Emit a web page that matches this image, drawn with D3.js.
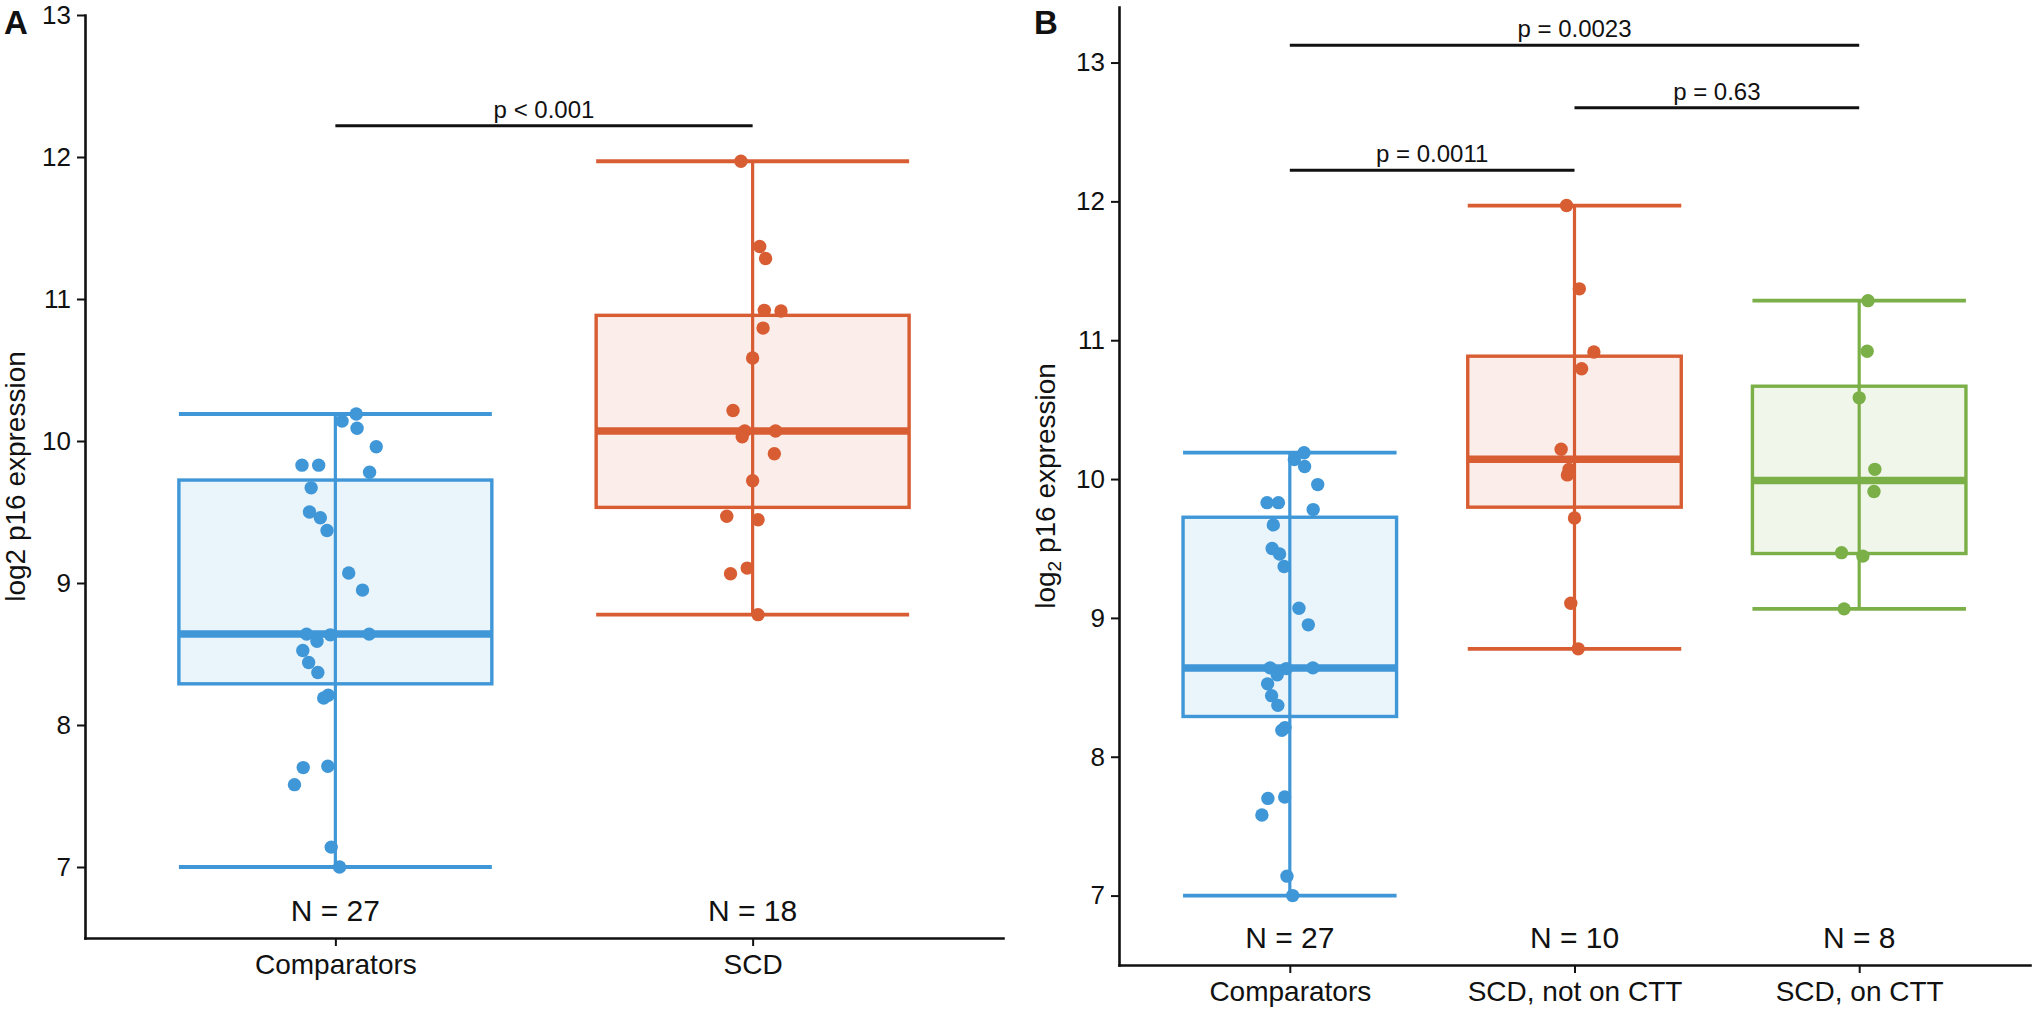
<!DOCTYPE html>
<html>
<head>
<meta charset="utf-8">
<script src="https://cdn.jsdelivr.net/npm/d3@7"></script>
<style>
  html, body { margin: 0; padding: 0; background: #fff; }
  svg { display: block; font-family: "Liberation Sans", Arial, Helvetica, sans-serif; }
</style>
</head>
<body>
<svg id="chart" width="2036" height="1010"></svg>
<script>
// ---------------- data ----------------
const categoriesA = ["Comparators", "SCD"];
const categoriesB = ["Comparators", "SCD, not on CTT", "SCD, on CTT"];

const comparatorsValues = [10.19, 10.14, 10.09, 9.96, 9.83, 9.83, 9.78, 9.67, 9.50, 9.46, 9.37, 9.07, 8.95,
  8.64, 8.59, 8.635, 8.64, 8.525, 8.44, 8.37, 8.19, 8.21, 7.70, 7.71, 7.58, 7.14, 7.00];
const comparatorsJitter = [0.050, 0.016, 0.052, 0.098, -0.080, -0.040, 0.082, -0.058, -0.062, -0.036, -0.020, 0.032, 0.065,
  -0.069, -0.044, -0.012, 0.081, -0.078, -0.064, -0.042, -0.028, -0.017, -0.077, -0.018, -0.098, -0.010, 0.010];

const scdNoCttValues = [11.97, 11.37, 10.915, 10.795, 10.215, 10.07, 10.03, 9.72, 9.105, 8.777];
const scdNoCttJitter = [-0.028, 0.017, 0.068, 0.025, -0.047, -0.019, -0.025, 0.0, -0.013, 0.013];

const scdCttValues = [11.285, 10.92, 10.585, 10.07, 9.91, 9.47, 9.445, 9.065];
const scdCttJitter = [0.031, 0.028, 0.0, 0.055, 0.052, -0.062, 0.013, -0.053];

const yTicks = [7, 8, 9, 10, 11, 12, 13];
const yDomainA = [6.5, 13.0];
const yDomainB = [6.5, 13.4];
const nLabelValue = 6.62;

const comparisonsA = [
  { from: "Comparators", to: "SCD", y: 12.22, label: "p < 0.001" }
];
const comparisonsB = [
  { from: "Comparators", to: "SCD, not on CTT", y: 12.225, label: "p = 0.0011" },
  { from: "SCD, not on CTT", to: "SCD, on CTT", y: 12.675, label: "p = 0.63" },
  { from: "Comparators", to: "SCD, on CTT", y: 13.125, label: "p = 0.0023" }
];

const colors = { blue: "#3F97D8", red: "#D85D33", green: "#7BAF48" };

// ---------------- helpers ----------------
const svg = d3.select("#chart");

function boxStats(values) {
  const s = values.slice().sort(d3.ascending);
  const q1 = d3.quantile(s, 0.25), med = d3.quantile(s, 0.5), q3 = d3.quantile(s, 0.75);
  const iqr = q3 - q1;
  const lo = d3.min(s.filter(v => v >= q1 - 1.5 * iqr));
  const hi = d3.max(s.filter(v => v <= q3 + 1.5 * iqr));
  return { q1, med, q3, lo, hi };
}

function drawPanel(cfg) {
  const g = svg.append("g");
  const x = d3.scalePoint().domain(cfg.categories).range([cfg.left, cfg.right]).padding(0.6);
  const y = d3.scaleLinear().domain(cfg.yDomain).range([cfg.bottom, cfg.top]);
  const step = x.step();
  const bw = step * 0.75;

  cfg.groups.forEach(grp => {
    const cx = x(grp.cat);
    const st = boxStats(grp.values);
    const gg = g.append("g");
    gg.append("line").attr("x1", cx).attr("x2", cx).attr("y1", y(st.lo)).attr("y2", y(st.hi))
      .attr("stroke", grp.color).attr("stroke-width", 3.2);
    [st.lo, st.hi].forEach(v => {
      gg.append("line").attr("x1", cx - bw / 2).attr("x2", cx + bw / 2).attr("y1", y(v)).attr("y2", y(v))
        .attr("stroke", grp.color).attr("stroke-width", 3.8);
    });
    gg.append("rect").attr("x", cx - bw / 2).attr("width", bw)
      .attr("y", y(st.q3)).attr("height", y(st.q1) - y(st.q3))
      .attr("fill", grp.color).attr("fill-opacity", 0.11)
      .attr("stroke", grp.color).attr("stroke-width", 3.4);
    gg.append("line").attr("x1", cx - bw / 2).attr("x2", cx + bw / 2).attr("y1", y(st.med)).attr("y2", y(st.med))
      .attr("stroke", grp.color).attr("stroke-width", 7.5);
    gg.selectAll("circle").data(grp.values.map((v, i) => ({ v, j: grp.jitter[i] })))
      .join("circle")
      .attr("cx", d => cx + d.j * step)
      .attr("cy", d => y(d.v))
      .attr("r", 6.7)
      .attr("fill", grp.color);
    g.append("text").attr("x", cx).attr("y", y(nLabelValue))
      .attr("text-anchor", "middle").attr("font-size", 30).attr("fill", "#111")
      .text(`N = ${grp.values.length}`);
  });

  cfg.comparisons.forEach(c => {
    g.append("line").attr("x1", x(c.from)).attr("x2", x(c.to)).attr("y1", y(c.y)).attr("y2", y(c.y))
      .attr("stroke", "#111").attr("stroke-width", 3);
    g.append("text").attr("x", (x(c.from) + x(c.to)) / 2).attr("y", y(c.y) - 8)
      .attr("text-anchor", "middle").attr("font-size", 24).attr("fill", "#111").text(c.label);
  });

  const ya = g.append("g").attr("transform", `translate(${cfg.left},0)`)
    .call(d3.axisLeft(y).tickValues(yTicks).tickFormat(d3.format("d")).tickSize(8).tickSizeOuter(0).tickPadding(6));
  ya.attr("font-family", null);
  ya.selectAll("text").attr("font-size", 26).attr("fill", "#111");
  ya.selectAll(".tick line").attr("stroke", "#111").attr("stroke-width", 2);
  ya.select(".domain").attr("stroke", "#111").attr("stroke-width", 2.6).attr("stroke-linecap", "square");

  const xa = g.append("g").attr("transform", `translate(0,${cfg.bottom})`)
    .call(d3.axisBottom(x).tickSize(8).tickSizeOuter(0).tickPadding(8));
  xa.attr("font-family", null);
  xa.selectAll("text").attr("font-size", 28).attr("fill", "#111");
  xa.selectAll(".tick line").attr("stroke", "#111").attr("stroke-width", 2);
  xa.select(".domain").attr("stroke", "#111").attr("stroke-width", 2.6).attr("stroke-linecap", "square");

  const t = g.append("text")
    .attr("transform", `translate(${cfg.titleX},${(cfg.top + cfg.bottom) / 2}) rotate(-90)`)
    .attr("text-anchor", "middle").attr("font-size", 28).attr("fill", "#111");
  cfg.title(t);

  svg.append("text").attr("x", cfg.letterX).attr("y", 34).attr("font-size", 33)
    .attr("font-weight", "bold").attr("fill", "#111").text(cfg.letter);
}

// ---------------- panel A ----------------
drawPanel({
  letter: "A", letterX: 4,
  categories: categoriesA,
  left: 85, right: 1003, top: 15, bottom: 938,
  yDomain: yDomainA,
  titleX: 25,
  title: t => t.text("log2 p16 expression"),
  groups: [
    { cat: "Comparators", values: comparatorsValues, jitter: comparatorsJitter, color: colors.blue },
    { cat: "SCD", values: scdNoCttValues.concat(scdCttValues), jitter: scdNoCttJitter.concat(scdCttJitter), color: colors.red }
  ],
  comparisons: comparisonsA
});

// ---------------- panel B ----------------
drawPanel({
  letter: "B", letterX: 1034,
  categories: categoriesB,
  left: 1119, right: 2030, top: 7, bottom: 965,
  yDomain: yDomainB,
  titleX: 1055,
  title: t => {
    t.append("tspan").text("log");
    t.append("tspan").attr("font-size", 19).attr("dy", 6).text("2");
    t.append("tspan").attr("dy", -6).text(" p16 expression");
  },
  groups: [
    { cat: "Comparators", values: comparatorsValues, jitter: comparatorsJitter, color: colors.blue },
    { cat: "SCD, not on CTT", values: scdNoCttValues, jitter: scdNoCttJitter, color: colors.red },
    { cat: "SCD, on CTT", values: scdCttValues, jitter: scdCttJitter, color: colors.green }
  ],
  comparisons: comparisonsB
});
</script>
</body>
</html>
